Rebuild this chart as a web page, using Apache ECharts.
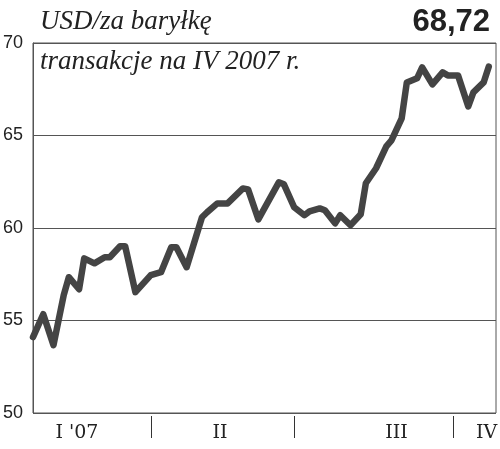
<!DOCTYPE html>
<html>
<head>
<meta charset="utf-8">
<script src="https://cdn.jsdelivr.net/npm/echarts@6/dist/echarts.min.js"></script>
<style>html,body{margin:0;padding:0;background:#fff;}#c{width:500px;height:449px;}</style>
</head>
<body>
<div id="c"></div>
<script>
// Data
const dates = [
  '2007-01-09','2007-01-11','2007-01-13','2007-01-15','2007-01-16','2007-01-18','2007-01-19','2007-01-21',
  '2007-01-23','2007-01-24','2007-01-26','2007-01-27','2007-01-29','2007-02-01','2007-02-03','2007-02-05',
  '2007-02-06','2007-02-08','2007-02-11','2007-02-12','2007-02-14','2007-02-16','2007-02-18','2007-02-19',
  '2007-02-20','2007-02-22','2007-02-26','2007-02-27','2007-03-01','2007-03-03','2007-03-04','2007-03-06',
  '2007-03-07','2007-03-09','2007-03-10','2007-03-12','2007-03-14','2007-03-15','2007-03-17','2007-03-19',
  '2007-03-20','2007-03-22','2007-03-23','2007-03-25','2007-03-26','2007-03-28','2007-03-30','2007-03-31',
  '2007-04-02','2007-04-04','2007-04-05','2007-04-07','2007-04-08'
];
const prices = [
  54.10, 55.34, 53.67, 56.37, 57.34, 56.69, 58.36, 58.09,
  58.42, 58.42, 59.01, 59.01, 56.53, 57.45, 57.61, 58.96,
  58.96, 57.88, 60.58, 60.85, 61.33, 61.33, 61.87, 62.14,
  62.09, 60.47, 62.47, 62.36, 61.12, 60.69, 60.90, 61.06,
  60.96, 60.25, 60.69, 60.15, 60.74, 62.42, 63.23, 64.41,
  64.74, 65.93, 67.87, 68.09, 68.68, 67.76, 68.41, 68.25,
  68.25, 66.57, 67.33, 67.87, 68.72
];
const monthLabels = ["I '07", 'II', 'III', 'IV'];
const yTicks = [50, 55, 60, 65, 70];
const titleText = 'USD/za baryłkę';
const subtitleText = 'transakcje na IV 2007 r.';
const lastValueText = '68,72';

function ts(s) { const p = s.split('-'); return Date.UTC(+p[0], +p[1]-1, +p[2]); }
const HOUR = 3600000;
const monthStarts = [ts('2007-02-01'), ts('2007-03-01'), ts('2007-04-01')];
const labelPos = [ts('2007-01-17') + 14*HOUR, ts('2007-02-14') + 12*HOUR, ts('2007-03-21'), ts('2007-04-07') + 14*HOUR];

const chart = echarts.init(document.getElementById('c'), null, {renderer: 'canvas'});
chart.setOption({
  animation: false,
  backgroundColor: '#fff',
  title: [
    {text: titleText, left: 35, top: 3,
      textStyle: {fontFamily: 'Liberation Serif', fontStyle: 'italic', fontWeight: 'normal', fontSize: 27, color: '#222'}},
    {text: subtitleText, left: 35, top: 43,
      textStyle: {fontFamily: 'Liberation Serif', fontStyle: 'italic', fontWeight: 'normal', fontSize: 27, color: '#222'}},
    {text: lastValueText, right: 5, top: 2,
      textStyle: {fontFamily: 'Liberation Sans', fontWeight: 'bold', fontSize: 31, color: '#222'}}
  ],
  grid: {left: 33, right: 4, top: 43, bottom: 36, show: true, borderColor: '#555', borderWidth: 1, outerBoundsMode: 'none', containLabel: false},
  xAxis: {
    type: 'value',
    min: ts('2007-01-09'),
    max: ts('2007-04-09') + 10*HOUR,
    offset: 3,
    axisLine: {show: false},
    axisTick: {show: true, length: 22, lineStyle: {color: '#333', width: 1}, customValues: monthStarts},
    axisLabel: {
      customValues: labelPos,
      margin: 8,
      fontFamily: 'DejaVu Serif', fontSize: 19, color: '#222',
      formatter: function (v) { return monthLabels[new Date(v).getUTCMonth()]; }
    },
    splitLine: {show: false}
  },
  yAxis: {
    type: 'value', min: yTicks[0], max: yTicks[yTicks.length-1], interval: 5,
    axisLine: {show: true, lineStyle: {color: '#555'}},
    axisTick: {show: false},
    axisLabel: {fontFamily: 'Liberation Sans', fontSize: 18, color: '#222', margin: 10},
    splitLine: {show: true, lineStyle: {color: '#555', width: 1}}
  },
  series: [{
    type: 'line',
    data: dates.map((d, i) => [ts(d), prices[i]]),
    showSymbol: false, symbol: 'none',
    lineStyle: {color: '#444', width: 6.5, join: 'round', cap: 'round'},
    clip: false
  }]
});
</script>
</body>
</html>
